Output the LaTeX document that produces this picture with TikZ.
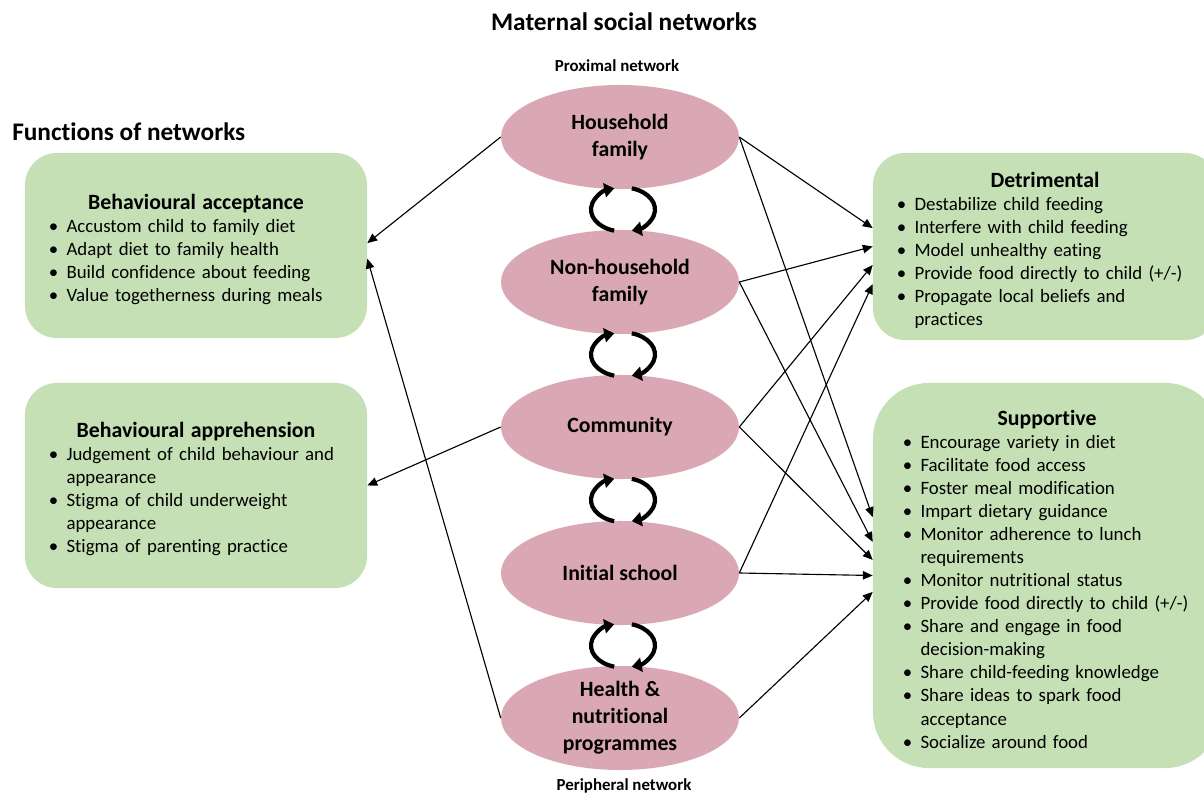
\documentclass[tikz,border=0pt]{standalone}
\usepackage{fontspec}
\setmainfont{Carlito}[Ligatures=NoCommon]
\usetikzlibrary{arrows.meta,calc,shapes.geometric}

\definecolor{netpink}{RGB}{218,168,180}
\definecolor{fungreen}{RGB}{197,224,180}

% bullet and continuation indent for the function lists
\newcommand{\bul}{\makebox[12.5pt][l]{\textbullet}}
\newcommand{\cnt}{\hspace*{12.5pt}}
\newcommand{\boxhead}[1]{\makebox[\hsize]{\rule{0pt}{16pt}\fontsize{15.5}{18}\selectfont\bfseries #1}}

\begin{document}
\begin{tikzpicture}[x=0.025cm, y=-0.025cm,
    net/.style={ellipse, fill=netpink, minimum width=5.95cm, minimum height=2.6cm,
                inner sep=0pt, align=center, font=\fontsize{15.5}{19.2}\selectfont\bfseries},
    fnbox/.style={rectangle, rounded corners=0.8cm, fill=fungreen, align=left,
                  inner xsep=0.6cm, font=\fontsize{13.4}{16.4}\selectfont},
    lbl/.style={inner sep=0pt, font=\bfseries},
    link/.style={-{Triangle[length=7pt,width=6pt]}, line width=0.8pt},
    roundarr/.style={-{Triangle[length=7pt,width=10pt]}, line width=3pt}
  ]
  \useasboundingbox (0,0) rectangle (1204,794);
  \clip (0,0) rectangle (1204,794);

  % Titles
  \node[lbl, font=\fontsize{18}{21}\selectfont\bfseries] (title) at (624,22) {Maternal social networks};
  \node[lbl, font=\fontsize{12}{14}\selectfont\bfseries] (prox) at (617,66) {Proximal network};
  \node[lbl, font=\fontsize{12}{14}\selectfont\bfseries] (peri) at (624,786) {Peripheral network};
  \node[lbl, font=\fontsize{18}{21}\selectfont\bfseries, anchor=west] (func) at (12,132) {Functions of networks};

  % Network levels
  \node[net] (hh) at (620,137) {Household\\family};
  \node[net] (nh) at (620,282) {Non-household\\family};
  \node[net] (com) at (620,427) {Community};
  \node[net] (sch) at (620,573) {Initial school};
  \node[net] (hnp) at (620,718) {Health \&\\nutritional\\programmes};

  % Turning arrows between levels
  \foreach \a/\b in {hh/nh, nh/com, com/sch, sch/hnp} {
    \draw[roundarr] ($(\a)!0.5!(\b)+(3,0)$) ++(254:0.8cm and 0.55cm)
      arc[start angle=254, end angle=106, x radius=0.8cm, y radius=0.55cm];
    \draw[roundarr] ($(\a)!0.5!(\b)+(3,0)$) ++(74:0.8cm and 0.55cm)
      arc[start angle=74, end angle=-74, x radius=0.8cm, y radius=0.55cm];
  }

  % Functions (left)
  \node[fnbox, minimum width=8.55cm, minimum height=4.625cm, text width=7.35cm] (acc) at (196,245.5) {%
    \boxhead{Behavioural acceptance}\\
    \bul Accustom child to family diet\\
    \bul Adapt diet to family health\\
    \bul Build confidence about feeding\\
    \bul Value togetherness during meals};
  \node[fnbox, minimum width=8.55cm, minimum height=5.125cm, text width=7.35cm] (app) at (196,485.5) {%
    \boxhead{Behavioural apprehension}\\
    \bul Judgement of child behaviour and\\
    \cnt appearance\\
    \bul Stigma of child underweight\\
    \cnt appearance\\
    \bul Stigma of parenting practice};

  % Functions (right)
  \node[fnbox, minimum width=8.6cm, minimum height=4.675cm, text width=7.4cm] (det) at (1045,246.5) {%
    \boxhead{Detrimental}\\
    \bul Destabilize child feeding\\
    \bul Interfere with child feeding\\
    \bul Model unhealthy eating\\
    \bul Provide food directly to child (+/-)\\
    \bul Propagate local beliefs and\\
    \cnt practices};
  \node[fnbox, rounded corners=1.4cm, inner xsep=0.75cm, minimum width=8.7cm, minimum height=9.625cm,
        text width=7.2cm] (sup) at (1047,575.5) {%
    \boxhead{Supportive}\\
    \bul Encourage variety in diet\\
    \bul Facilitate food access\\
    \bul Foster meal modification\\
    \bul Impart dietary guidance\\
    \bul Monitor adherence to lunch\\
    \cnt requirements\\
    \bul Monitor nutritional status\\
    \bul Provide food directly to child (+/-)\\
    \bul Share and engage in food\\
    \cnt decision-making\\
    \bul Share child-feeding knowledge\\
    \bul Share ideas to spark food\\
    \cnt acceptance\\
    \bul Socialize around food};

  % Links to the left
  \draw[link] (hh.west) -- ([yshift=0.06cm]acc.east);
  \draw[link] (hnp.west) -- ([yshift=-0.33cm]acc.east);
  \draw[link] (com.west) -- (app.east);

  % Links to the right
  \draw[link] (hh.east) -- ([yshift=0.46cm]det.west);
  \draw[link] (hh.east) -- ([yshift=1.46cm]sup.west);
  \draw[link] (nh.east) -- (det.west);
  \draw[link] (nh.east) -- ([yshift=0.84cm]sup.west);
  \draw[link] (com.east) -- ([yshift=-0.46cm]det.west);
  \draw[link] (com.east) -- ([yshift=0.39cm]sup.west);
  \draw[link] (sch.east) -- ([yshift=-0.94cm]det.west);
  \draw[link] (sch.east) -- (sup.west);
  \draw[link] (hnp.east) -- ([yshift=-0.41cm]sup.west);
\end{tikzpicture}
\end{document}
